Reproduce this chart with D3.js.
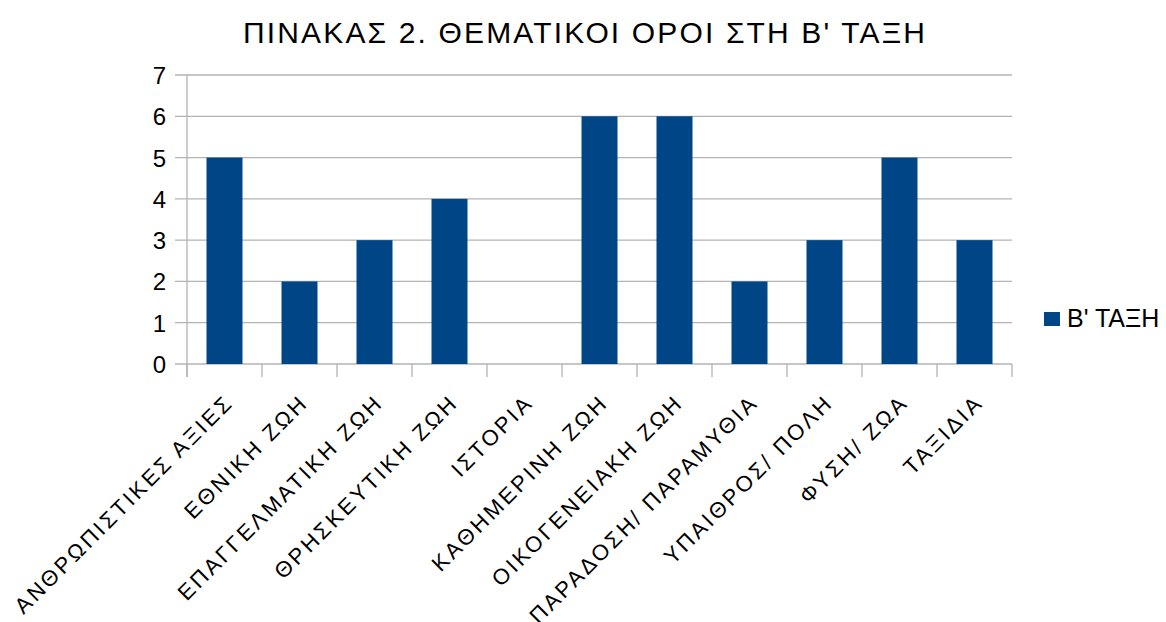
<!DOCTYPE html>
<html><head><meta charset="utf-8">
<script src="https://cdn.jsdelivr.net/npm/d3@7"></script>
<style>body{margin:0;background:#fff}svg{display:block}text{font-family:"Liberation Sans",Arial,sans-serif;fill:#000}</style>
</head><body><svg id="c" width="1166" height="622"></svg>
<script>
const categories = ["ΑΝΘΡΩΠΙΣΤΙΚΕΣ ΑΞΙΕΣ","ΕΘΝΙΚΗ ΖΩΗ","ΕΠΑΓΓΕΛΜΑΤΙΚΗ ΖΩΗ","ΘΡΗΣΚΕΥΤΙΚΗ ΖΩΗ","ΙΣΤΟΡΙΑ","ΚΑΘΗΜΕΡΙΝΗ ΖΩΗ","ΟΙΚΟΓΕΝΕΙΑΚΗ ΖΩΗ","ΠΑΡΑΔΟΣΗ/ ΠΑΡΑΜΥΘΙΑ","ΥΠΑΙΘΡΟΣ/ ΠΟΛΗ","ΦΥΣΗ/ ΖΩΑ","ΤΑΞΙΔΙΑ"];
const values = [5,2,3,4,0,6,6,2,3,5,3];
const yTicks = [0,1,2,3,4,5,6,7];
const seriesName = "Β' ΤΑΞΗ";
const title = "ΠΙΝΑΚΑΣ 2. ΘΕΜΑΤΙΚΟΙ ΟΡΟΙ ΣΤΗ Β' ΤΑΞΗ";

const svg = d3.select("#c");
const L=187,R=1012,T=75,B=364;
const x = d3.scaleBand().domain(categories).range([L,R]).paddingInner(0.52).paddingOuter(0.26);
const xb = d3.scaleBand().domain(categories).range([L,R]);
const y = d3.scaleLinear().domain([0,7]).range([B,T]);
const grid="#b3b3b3";

svg.append("text").attr("x",243).attr("y",43).attr("textLength",682).attr("lengthAdjust","spacing")
 .style("font-size","30px").text(title);

// gridlines
svg.append("g").selectAll("line").data(yTicks).join("line")
 .attr("x1",L-12).attr("x2",R).attr("y1",d=>y(d)).attr("y2",d=>y(d)).attr("stroke",grid).attr("stroke-width",1.3);
// y axis line
svg.append("line").attr("x1",L).attr("x2",L).attr("y1",T).attr("y2",B+13).attr("stroke",grid).attr("stroke-width",1.3);
// x category ticks
const bounds = categories.map(c=>xb(c)).concat([R]);
svg.append("g").selectAll("line").data(bounds).join("line")
 .attr("x1",d=>d).attr("x2",d=>d).attr("y1",B).attr("y2",B+13).attr("stroke",grid).attr("stroke-width",1.3);
// y labels
svg.append("g").selectAll("text").data(yTicks).join("text")
 .attr("x",166).attr("y",d=>y(d)+9).attr("text-anchor","end").style("font-size","24px").text(d=>d);
// bars
svg.append("g").selectAll("rect").data(values).join("rect")
 .attr("x",(d,i)=>x(categories[i])).attr("width",x.bandwidth())
 .attr("y",d=>y(d)).attr("height",d=>B-y(d)).attr("fill","#004586");
// x labels
svg.append("g").selectAll("text").data(categories).join("text")
 .attr("transform",d=>`translate(${xb(d)+xb.bandwidth()/2+10},${B+40}) rotate(-45)`)
 .attr("text-anchor","end").style("font-size","22px").style("letter-spacing","2.8px").text(d=>d);
// legend
svg.append("rect").attr("x",1044).attr("y",312).attr("width",16).attr("height",14).attr("fill","#004586");
svg.append("text").attr("x",1067).attr("y",327).style("font-size","25px").text(seriesName);
</script></body></html>
